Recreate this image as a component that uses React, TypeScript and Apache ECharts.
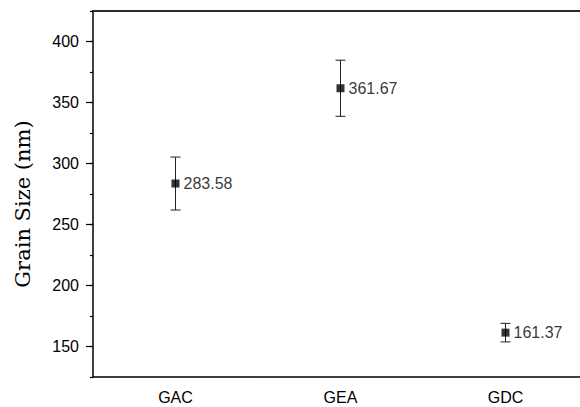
import React, { useEffect, useRef } from "react";
import * as echarts from "echarts";

const categories = ["GAC", "GEA", "GDC"];
const grainSize = [283.58, 361.67, 161.37];
const errors = [21.7, 23.0, 7.6];
const majorTicks = [150, 200, 250, 300, 350, 400];
const yTitle = "Grain Size (nm)";

const SANS = "Liberation Sans";
const SERIF = "DejaVu Serif";

export default function App() {
  const ref = useRef<HTMLDivElement>(null);
  useEffect(() => {
    if (!ref.current) return;
    const chart = echarts.init(ref.current, undefined, { renderer: "svg" });
    const errData = categories.map((c, i) => [i, grainSize[i] - errors[i], grainSize[i] + errors[i]]);
    chart.setOption({
      animation: false,
      backgroundColor: "#ffffff",
      grid: {
        left: 93,
        top: 11,
        width: 495,
        height: 366,
        outerBoundsMode: "none",
        containLabel: false,
        show: false,
      },
      graphic: [
        {
          type: "text",
          x: 23,
          y: 204,
          rotation: Math.PI / 2,
          style: {
            text: yTitle,
            fill: "#000",
            fontSize: 21,
            fontFamily: SERIF,
            align: "center",
            verticalAlign: "middle",
          },
        },
      ],
      xAxis: [
        {
          type: "category",
          data: categories,
          boundaryGap: true,
          axisLine: { lineStyle: { color: "#000", width: 1.5 } },
          axisTick: { alignWithLabel: true, length: 7, lineStyle: { color: "#000", width: 1.5 } },
          axisLabel: { color: "#000", fontSize: 16, fontFamily: SANS, margin: 12 },
          splitLine: { show: false },
        },
        {
          type: "category",
          data: categories,
          position: "top",
          boundaryGap: true,
          axisLine: { show: true, lineStyle: { color: "#2a2a2a", width: 2 } },
          axisTick: { show: false },
          axisLabel: { show: false },
          splitLine: { show: false },
        },
      ],
      yAxis: [
        {
          type: "value",
          min: 125,
          max: 425,
          interval: 25,
          axisLine: { show: true, lineStyle: { color: "#000", width: 1.5 } },
          axisTick: { show: true, length: 3, lineStyle: { color: "#000", width: 1.2 } },
          axisLabel: {
            color: "#000",
            fontSize: 16,
            fontFamily: SANS,
            margin: 14,
            formatter: (v: number) => (v % 50 === 0 ? String(v) : ""),
          },
          splitLine: { show: false },
        },
        {
          type: "value",
          min: 125,
          max: 425,
          interval: 25,
          position: "left",
          offset: 0,
          axisLine: { show: false },
          axisTick: { show: true, length: 7, customValues: majorTicks, lineStyle: { color: "#000", width: 1.2 } },
          axisLabel: { show: false },
          splitLine: { show: false },
        },
      ],
      series: [
        {
          type: "custom",
          yAxisIndex: 0,
          data: errData,
          z: 2,
          renderItem: (params: any, api: any) => {
            const x = api.value(0);
            const lo = api.coord([x, api.value(1)]);
            const hi = api.coord([x, api.value(2)]);
            const hw = 5;
            const style = { stroke: "#222", lineWidth: 1 };
            return {
              type: "group",
              children: [
                { type: "line", shape: { x1: lo[0], y1: lo[1], x2: hi[0], y2: hi[1] }, style },
                { type: "line", shape: { x1: lo[0] - hw, y1: lo[1], x2: lo[0] + hw, y2: lo[1] }, style },
                { type: "line", shape: { x1: hi[0] - hw, y1: hi[1], x2: hi[0] + hw, y2: hi[1] }, style },
              ],
            };
          },
        },
        {
          type: "scatter",
          yAxisIndex: 0,
          data: grainSize,
          symbol: "rect",
          symbolSize: 8,
          z: 3,
          itemStyle: { color: "#000" },
          label: {
            show: true,
            position: "right",
            distance: 4,
            color: "#000",
            fontSize: 16,
            fontFamily: SANS,
            formatter: (p: any) => Number(p.value).toFixed(2),
          },
        },
      ],
    });
    return () => chart.dispose();
  }, []);
  return <div ref={ref} style={{ position: "fixed", left: 0, top: 0, width: 580, height: 407 }} />;
}
